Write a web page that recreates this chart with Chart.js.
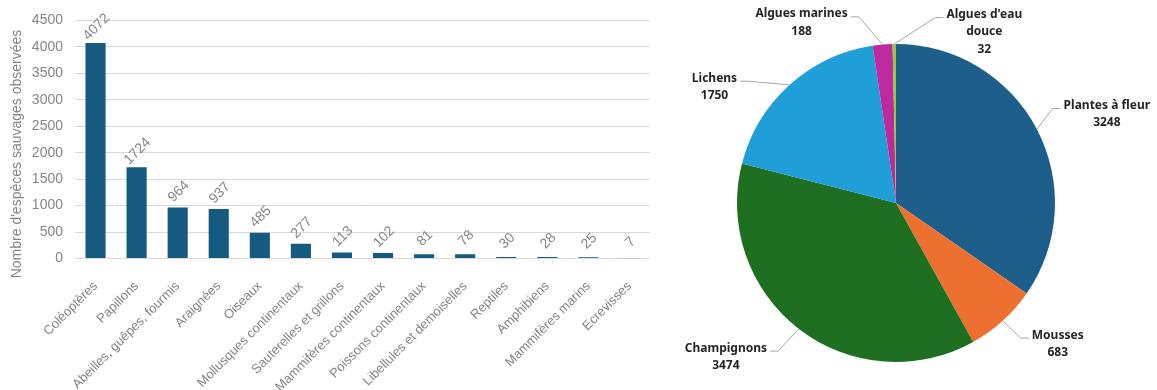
<!DOCTYPE html>
<html>
<head>
<meta charset="utf-8">
<script src="https://cdn.jsdelivr.net/npm/chart.js@4"></script>
<style>
  html, body { margin: 0; padding: 0; background: #fff; }
  #wrap { position: relative; width: 1157px; height: 390px; overflow: hidden; }
  #barBox { position: absolute; left: 0; top: 0; width: 660px; height: 390px; }
  #pieBox { position: absolute; left: 660px; top: 0; width: 497px; height: 390px; }
</style>
</head>
<body>
<div id="wrap">
  <div id="barBox"><canvas id="barChart"></canvas></div>
  <div id="pieBox"><canvas id="pieChart"></canvas></div>
</div>
<script>
// espèces animales
const barLabels = ['Coléoptères', 'Papillons', 'Abeilles, guêpes, fourmis', 'Araignées', 'Oiseaux',
  'Mollusques continentaux', 'Sauterelles et grillons', 'Mammifères continentaux', 'Poissons continentaux',
  'Libellules et demoiselles', 'Reptiles', 'Amphibiens', 'Mammifères marins', 'Ecrevisses'];
const barValues = [4072, 1724, 964, 937, 485, 277, 113, 102, 81, 78, 30, 28, 25, 7];
const yAxisTitle = "Nombre d'espèces sauvages observées";

// plantes, champignons, algues
const pieLabels = ['Plantes à fleur', 'Mousses', 'Champignons', 'Lichens', 'Algues marines', "Algues d'eau douce"];
const pieValues = [3248, 683, 3474, 1750, 188, 32];
const pieColors = ['#1d5e8b', '#ee7030', '#1e6f22', '#1f9ed8', '#bd2aa0', '#96c83c'];

// où placer chaque étiquette par rapport au bord de sa part
const pieLabelOffsets = [[70, -15], [55, 23], [-73, 28], [-75, 2], [-81, -22], [90, -12]];
const pieLabelLines = pieLabels.map(l => l === "Algues d'eau douce" ? ["Algues d'eau", 'douce'] : [l]);

const grey = '#858585';

const barValuePlugin = {
  id: 'barValues',
  afterDatasetsDraw(chart) {
    const ctx = chart.ctx;
    const meta = chart.getDatasetMeta(0);
    ctx.save();
    ctx.font = '14px "Liberation Sans", Arial, sans-serif';
    ctx.fillStyle = grey;
    ctx.textAlign = 'center';
    ctx.textBaseline = 'middle';
    meta.data.forEach((bar, i) => {
      ctx.save();
      ctx.translate(bar.x + 1, bar.y - 16);
      ctx.rotate(-Math.PI / 4);
      ctx.fillText(String(barValues[i]), 0, 0);
      ctx.restore();
    });
    ctx.restore();
  }
};

const yTitlePlugin = {
  id: 'yTitle',
  afterDraw(chart) {
    const ctx = chart.ctx;
    ctx.save();
    ctx.font = '14px "Liberation Sans", Arial, sans-serif';
    ctx.fillStyle = grey;
    ctx.textAlign = 'center';
    ctx.textBaseline = 'middle';
    ctx.translate(17, 154);
    ctx.rotate(-Math.PI / 2);
    ctx.fillText(yAxisTitle, 0, 0);
    ctx.restore();
  }
};

new Chart(document.getElementById('barChart'), {
  type: 'bar',
  data: {
    labels: barLabels,
    datasets: [{
      data: barValues,
      backgroundColor: '#165a80',
      categoryPercentage: 1,
      barPercentage: 0.49
    }]
  },
  options: {
    responsive: true,
    maintainAspectRatio: false,
    animation: false,
    layout: { padding: { top: 19, right: 10, left: 0, bottom: 0 } },
    plugins: { legend: { display: false }, tooltip: { enabled: false } },
    scales: {
      x: {
        grid: { display: false },
        border: { display: false },
        ticks: {
          color: grey,
          font: { family: '"Liberation Sans", Arial, sans-serif', size: 13 },
          maxRotation: 45,
          minRotation: 45,
          autoSkip: false,
          padding: 12
        },
        afterFit(scale) { scale.height = 131.5; }
      },
      y: {
        min: 0,
        max: 4500,
        grid: { color: '#d9d9d9', drawTicks: false },
        border: { display: false },
        ticks: {
          stepSize: 500,
          color: grey,
          font: { family: '"Liberation Sans", Arial, sans-serif', size: 14 },
          padding: 12,
          callback: v => String(v)
        },
        afterFit(scale) { scale.width = 75; }
      }
    }
  },
  plugins: [barValuePlugin, yTitlePlugin]
});

const pieLabelPlugin = {
  id: 'pieLabels',
  afterDatasetsDraw(chart) {
    const ctx = chart.ctx;
    const meta = chart.getDatasetMeta(0);
    const lineH = 17.5;
    ctx.save();
    ctx.font = 'bold 12px "Noto Sans", sans-serif';
    meta.data.forEach((arc, i) => {
      const mid = (arc.startAngle + arc.endAngle) / 2;
      const px = arc.x + Math.cos(mid) * arc.outerRadius;
      const py = arc.y + Math.sin(mid) * arc.outerRadius;
      const lines = pieLabelLines[i].concat([String(pieValues[i])]);
      const cx = px + pieLabelOffsets[i][0];
      const cy = py + pieLabelOffsets[i][1];
      const firstY = cy - (lines.length - 1) / 2 * lineH;
      const maxW = Math.max(...lines.map(t => ctx.measureText(t).width));
      const side = pieLabelOffsets[i][0] > 0 ? 1 : -1;
      const edgeX = cx - side * (maxW / 2 + 3);
      const endY = firstY + 3;

      ctx.strokeStyle = '#a6a6a6';
      ctx.lineWidth = 1;
      ctx.beginPath();
      ctx.moveTo(px, py);
      ctx.lineTo(edgeX - side * 8, endY);
      ctx.lineTo(edgeX, endY);
      ctx.stroke();

      ctx.fillStyle = '#262626';
      ctx.textAlign = 'center';
      ctx.textBaseline = 'middle';
      lines.forEach((t, k) => ctx.fillText(t, cx, firstY + k * lineH));
    });
    ctx.restore();
  }
};

new Chart(document.getElementById('pieChart'), {
  type: 'pie',
  data: {
    labels: pieLabels,
    datasets: [{
      data: pieValues,
      backgroundColor: pieColors,
      borderWidth: 0
    }]
  },
  options: {
    responsive: true,
    maintainAspectRatio: false,
    animation: false,
    layout: { padding: { left: 77, right: 102, top: 44, bottom: 28 } },
    plugins: { legend: { display: false }, tooltip: { enabled: false } }
  },
  plugins: [pieLabelPlugin]
});
</script>
</body>
</html>
